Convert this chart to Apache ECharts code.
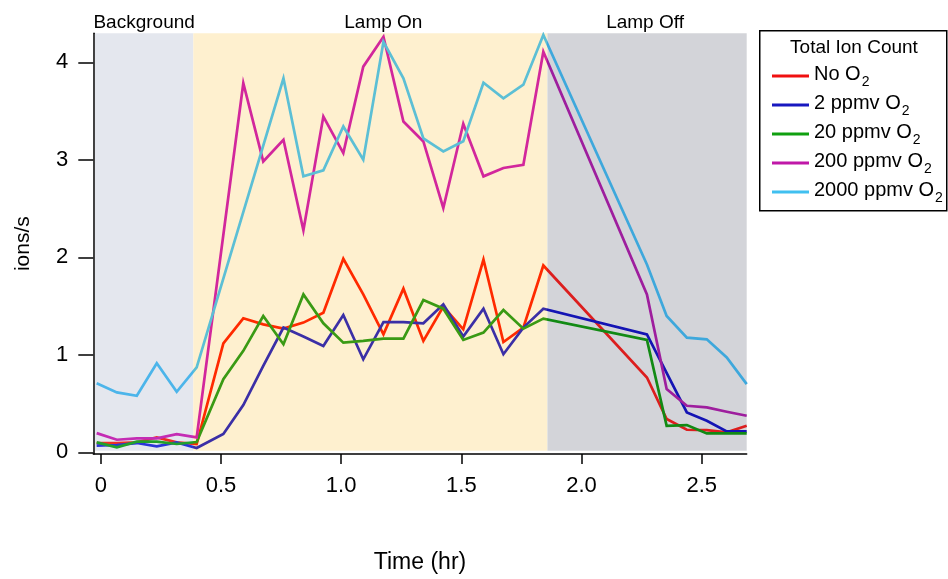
<!DOCTYPE html>
<html>
<head>
<meta charset="utf-8">
<script src="https://cdn.jsdelivr.net/npm/echarts@6/dist/echarts.min.js"></script>
<style>
  html, body { margin: 0; padding: 0; background: #ffffff; }
  #chart { width: 948px; height: 579px; }
</style>
</head>
<body>
<div id="chart"></div>
<script>
// Sampling times (hr) shared by all traces
const times = [-0.017, 0.067, 0.150, 0.233, 0.316, 0.399, 0.510, 0.593, 0.676, 0.760,
               0.843, 0.926, 1.009, 1.092, 1.176, 1.259, 1.342, 1.425, 1.508, 1.592,
               1.675, 1.758, 1.841, 2.272, 2.354, 2.438, 2.521, 2.604, 2.687];

// Total ion count (ions/s) for each O2 level; null = no sample at that time
const noO2 = [0.095, 0.095, 0.102, 0.153, 0.102, 0.085, 1.117, 1.374, 1.312, 1.268,
              1.330, 1.432, 1.985, 1.620, 1.210, 1.678, 1.142, 1.494, 1.261, 1.977,
              1.131, 1.279, 1.916, 0.767, 0.341, 0.231, 0.228, 0.205, 0.272];
const o2ppm2 = [0.068, 0.075, 0.095, 0.061, 0.102, 0.044, 0.187, 0.485, 0.886, 1.279,
                1.187, 1.091, 1.408, 0.954, 1.336, 1.336, 1.323, 1.517, 1.187, 1.473,
                1.006, 1.279, 1.473, 1.210, null, 0.409, 0.323, 0.215, 0.215];
const o2ppm20 = [0.102, 0.051, 0.109, 0.109, 0.085, 0.105, 0.750, 1.040, 1.398, 1.108,
                 1.619, 1.323, 1.125, 1.142, 1.166, 1.166, 1.561, 1.473, 1.152, 1.228,
                 1.459, 1.268, 1.371, 1.152, 0.272, 0.279, 0.194, 0.194, 0.194];
const o2ppm200 = [0.197, 0.129, 0.143, 0.143, 0.187, 0.153, null, 3.785, 2.983, 3.205,
                  2.277, 3.443, 3.069, 3.955, 4.262, 3.392, 3.188, 2.506, 3.369, 2.830,
                  2.916, 2.949, 4.108, 1.619, 0.648, 0.477, 0.460, 0.416, 0.375];
const o2ppm2000 = [0.709, 0.614, 0.580, 0.914, 0.620, 0.870, null, null, null, 3.836,
                   2.830, 2.891, 3.341, 3.000, 4.210, 3.836, 3.220, 3.085, 3.190, 3.790,
                   3.630, 3.770, 4.280, 1.926, 1.398, 1.176, 1.159, 0.972, 0.699];

const traceNames = ['No O2', '2 ppmv O2', '20 ppmv O2', '200 ppmv O2', '2000 ppmv O2'];
const traceValues = [noO2, o2ppm2, o2ppm20, o2ppm200, o2ppm2000];

// Experiment phases (hr)
const phaseNames = ['Background', 'Lamp On', 'Lamp Off'];
const phaseStarts = [-0.024, 0.385, 1.858];
const phaseEnds = [0.385, 1.858, 2.687];

// Axis ticks
const xTicks = [0, 0.5, 1.0, 1.5, 2.0, 2.5];
const yTicks = [0, 1, 2, 3, 4];

// Styling
const FONT = '"Liberation Sans", Arial, sans-serif';
const phaseColors = ['#e4e7ee', '#fef0cf', '#d3d4d9'];
const phaseLabelOffsets = [[0, 0], [13, 0], [-2, 0]];
const legendColors = ['#f01010', '#1818c0', '#10a010', '#c018a8', '#40c0f0'];
// trace colours as they appear over each phase shading
const traceColorsByPhase = [
  ['#ee2e24', '#ff2a00', '#dc1e1e'],
  ['#2a34d8', '#3b2fa6', '#1414b4'],
  ['#22a02a', '#3a9a14', '#128a14'],
  ['#c42cb4', '#d2279c', '#9e1e9e'],
  ['#4cb5ea', '#5cbfd5', '#3ea8dc']
];

const chart = echarts.init(document.getElementById('chart'), null, { renderer: 'canvas' });

const phaseAreas = phaseNames.map((name, i) => [
  {
    name: name,
    xAxis: phaseStarts[i],
    yAxis: 0.016,
    itemStyle: { color: phaseColors[i] },
    label: {
      show: true,
      position: 'top',
      distance: 1,
      offset: phaseLabelOffsets[i],
      color: '#000',
      fontFamily: FONT,
      fontSize: 19
    }
  },
  { xAxis: phaseEnds[i], yAxis: 4.297 }
]);

const lineSeries = traceNames.map((name, i) => ({
  name: name,
  type: 'line',
  data: times.map((t, k) => [t, traceValues[i][k]]),
  connectNulls: true,
  showSymbol: false,
  symbol: 'none',
  lineStyle: { width: 2.7, join: 'miter' },
  itemStyle: { color: legendColors[i] },
  z: 3 + i,
  animation: false
}));

const visualMaps = traceNames.map((name, i) => ({
  type: 'piecewise',
  show: false,
  seriesIndex: i + 1,
  dimension: 0,
  pieces: [
    { lt: phaseStarts[1], color: traceColorsByPhase[i][0] },
    { gte: phaseStarts[1], lt: phaseStarts[2], color: traceColorsByPhase[i][1] },
    { gte: phaseStarts[2], color: traceColorsByPhase[i][2] }
  ]
}));

function legendLabel(name) {
  const base = name.slice(0, -1);
  return '{n|' + base + '}{s|2}';
}

const option = {
  animation: false,
  backgroundColor: '#ffffff',
  grid: { left: 93.3, right: 201.3, top: 33.3, bottom: 124, containLabel: false },
  xAxis: {
    type: 'value',
    min: -0.031,
    max: 2.687,
    name: 'Time (hr)',
    nameLocation: 'middle',
    nameGap: 97,
    nameTextStyle: { color: '#000', fontFamily: FONT, fontSize: 23 },
    axisLine: { show: true, onZero: false, lineStyle: { color: '#000', width: 1.5 } },
    axisTick: { show: true, length: 10, customValues: xTicks, lineStyle: { color: '#000', width: 1.5 } },
    axisLabel: {
      customValues: xTicks,
      margin: 21,
      color: '#000',
      fontFamily: FONT,
      fontSize: 22,
      formatter: v => (v === 0 ? '0' : v.toFixed(1))
    },
    splitLine: { show: false }
  },
  yAxis: {
    type: 'value',
    min: -0.0174,
    max: 4.297,
    name: 'ions/s',
    nameLocation: 'middle',
    nameGap: 60,
    nameRotate: 90,
    nameTextStyle: { color: '#000', fontFamily: FONT, fontSize: 21 },
    axisLine: { show: true, onZero: false, lineStyle: { color: '#000', width: 1.5 } },
    axisTick: { show: true, length: 15, customValues: yTicks, lineStyle: { color: '#000', width: 1.5 } },
    axisLabel: {
      customValues: yTicks,
      margin: 25,
      color: '#000',
      fontFamily: FONT,
      fontSize: 22
    },
    splitLine: { show: false }
  },
  visualMap: visualMaps,
  legend: {
    orient: 'vertical',
    left: 767,
    top: 58,
    itemWidth: 37,
    itemHeight: 3,
    itemGap: 3,
    icon: 'rect',
    selectedMode: false,
    data: traceNames.map((name, i) => ({ name: name, itemStyle: { color: legendColors[i] } })),
    formatter: legendLabel,
    textStyle: {
      color: '#000',
      fontFamily: FONT,
      rich: {
        n: { fontFamily: FONT, fontSize: 20, color: '#000', lineHeight: 23, verticalAlign: 'top' },
        s: { fontFamily: FONT, fontSize: 14, color: '#000', lineHeight: 14, padding: [12, 0, 0, 1] }
      }
    }
  },
  graphic: [
    {
      type: 'rect',
      left: 759,
      top: 30,
      shape: { width: 187, height: 180 },
      style: { fill: '#ffffff', stroke: '#000', lineWidth: 1.5 },
      z: -1
    },
    {
      type: 'text',
      x: 854,
      y: 48,
      style: {
        text: 'Total Ion Count',
        fill: '#000',
        font: '19px ' + FONT,
        textAlign: 'center',
        textVerticalAlign: 'middle'
      }
    }
  ],
  series: [
    {
      name: 'phases',
      type: 'line',
      data: [],
      clip: false,
      z: 1,
      markArea: { silent: true, data: phaseAreas }
    }
  ].concat(lineSeries)
};

chart.setOption(option);
</script>
</body>
</html>
